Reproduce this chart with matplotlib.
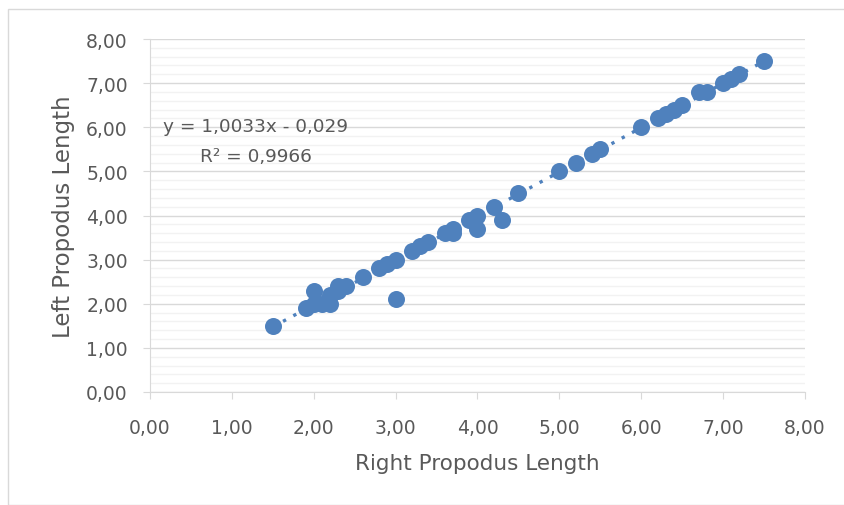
"""Scatter of left vs right propodus length with linear trendline"""
import numpy as np
import matplotlib.pyplot as plt
from matplotlib.ticker import MultipleLocator, FuncFormatter
from matplotlib.patches import Rectangle

# right propodus length (x) and left propodus length (y)
right_len = [1.5, 1.9, 2.0, 2.0, 2.1, 2.2, 2.2, 2.3, 2.3, 2.4, 2.6, 2.8, 2.9,
             3.0, 3.0, 3.2, 3.3, 3.4, 3.6, 3.7, 3.7, 3.9, 4.0, 4.0, 4.2, 4.3,
             4.5, 5.0, 5.2, 5.4, 5.5, 6.0, 6.2, 6.3, 6.4, 6.5, 6.7, 6.8, 7.0,
             7.1, 7.2, 7.5]
left_len = [1.5, 1.9, 2.3, 2.0, 2.0, 2.0, 2.2, 2.3, 2.4, 2.4, 2.6, 2.8, 2.9,
            3.0, 2.1, 3.2, 3.3, 3.4, 3.6, 3.7, 3.6, 3.9, 4.0, 3.7, 4.2, 3.9,
            4.5, 5.0, 5.2, 5.4, 5.5, 6.0, 6.2, 6.3, 6.4, 6.5, 6.8, 6.8, 7.0,
            7.1, 7.2, 7.5]
slope = 1.0033
intercept = -0.029
eq_text = "y = 1,0033x - 0,029"
r2_text = "R² = 0,9966"

blue = "#4F81BD"
grey = "#595959"

fig = plt.figure(figsize=(8.45, 5.06), dpi=100)
fig.patches.append(Rectangle((8 / 845, 0), 1, 1 - 10 / 506, transform=fig.transFigure,
                             fill=False, edgecolor="#d9d9d9", linewidth=1))
ax = fig.add_axes([150 / 845, 1 - 393 / 506, 655 / 845, 353 / 506])

ax.set_xlim(0, 8)
ax.set_ylim(0, 8)
ax.xaxis.set_major_locator(MultipleLocator(1))
ax.yaxis.set_major_locator(MultipleLocator(1))
ax.yaxis.set_minor_locator(MultipleLocator(0.2))
comma = FuncFormatter(lambda v, p: f"{v:.2f}".replace(".", ","))
ax.xaxis.set_major_formatter(comma)
ax.yaxis.set_major_formatter(comma)

ax.grid(axis="y", which="minor", color="#f2f2f2", linewidth=1)
ax.grid(axis="y", which="major", color="#d9d9d9", linewidth=1)
ax.set_axisbelow(True)
for s in ["top", "right"]:
    ax.spines[s].set_visible(False)
for s in ["left", "bottom"]:
    ax.spines[s].set_color("#d9d9d9")
ax.tick_params(which="major", color="#d9d9d9", length=5, labelcolor=grey, labelsize=13.5)
ax.tick_params(axis="y", which="major", pad=11)
ax.tick_params(axis="x", which="major", pad=14)
ax.tick_params(which="minor", length=0)

xs = np.array([min(right_len), max(right_len)])
ax.plot(xs, slope * xs + intercept, linestyle=(0, (1, 2.5)), color=blue,
        linewidth=2.4, zorder=2)
ax.scatter(right_len, left_len, s=150, color=blue, zorder=3, linewidths=0)

ax.text(0.16, 6.03, eq_text, fontsize=13.3, color=grey, va="center")
ax.text(0.61, 5.35, r2_text, fontsize=13.3, color=grey, va="center")

ax.set_xlabel("Right Propodus Length", fontsize=15.5, color=grey, labelpad=11)
ax.set_ylabel("Left Propodus Length", fontsize=16.5, color=grey, labelpad=8)

fig.savefig("out.png", dpi=100)
